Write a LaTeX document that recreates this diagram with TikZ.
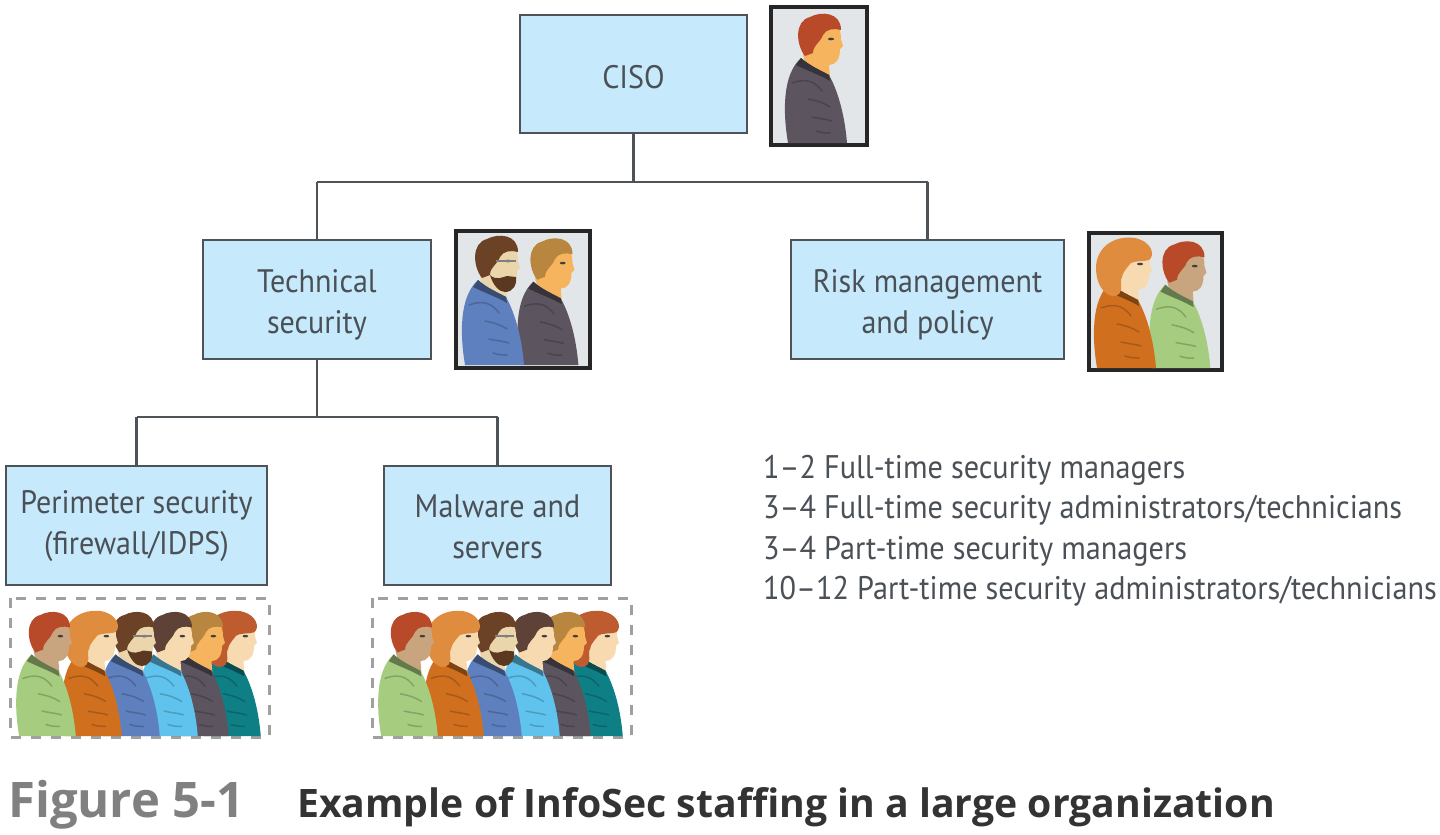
\documentclass[tikz,border=0pt]{standalone}
\usepackage{fontspec}
\setmainfont{PT Sans}[FakeStretch=0.925]
\newfontfamily\capfont{Open Sans}
\definecolor{boxfill}{HTML}{C6E9FC}
\definecolor{boxedge}{HTML}{4E5358}
\definecolor{inkgray}{HTML}{4A5056}
\definecolor{framebg}{HTML}{E3E6E9}
\definecolor{dashgray}{HTML}{A0A0A0}
\definecolor{hRed}{HTML}{B84A2A}
\definecolor{hOrange}{HTML}{E08C3E}
\definecolor{hBrown}{HTML}{6B4226}
\definecolor{hDark}{HTML}{5E4238}
\definecolor{hTan}{HTML}{B9863F}
\definecolor{hRust}{HTML}{BE5C30}
\definecolor{sTan}{HTML}{C9A57F}
\definecolor{sPale}{HTML}{F8DAB0}
\definecolor{sLight}{HTML}{EBD6AC}
\definecolor{sOrange}{HTML}{F7B45E}
\definecolor{jGreen}{HTML}{A6CC80}
\definecolor{jOrange}{HTML}{D0701F}
\definecolor{jBlue}{HTML}{5F80BE}
\definecolor{jSky}{HTML}{5FC3EE}
\definecolor{jDark}{HTML}{5C5560}
\definecolor{jTeal}{HTML}{0F7F86}
\tikzset{
  x=1pt,y=-1pt,
  orgbox/.style={draw=boxedge,line width=1.8pt,fill=boxfill,inner sep=0pt,outer sep=0pt},
  boxtext/.style={align=center,text=inkgray,font=\fontsize{32.5}{41}\selectfont,inner sep=0pt},
  link/.style={draw=boxedge,line width=2.2pt},
  portrait/.style={draw=black!85,line width=4pt,fill=framebg},
  crewbox/.style={draw=dashgray,line width=3pt,dash pattern=on 10pt off 10pt},
  notes/.style={anchor=north west,align=left,text=inkgray,inner sep=0pt,
    font=\fontsize{32.7}{40.5}\selectfont},
  fold/.style={line width=1.5pt,line cap=round}
}
% x, y of feet centre, scale, hair, skin, jacket, extras
\newcommand{\staffer}[7]{%
\begin{scope}[shift={(#1,#2)},scale=#3]
  \fill[#5] (-13,-88) .. controls (-12,-115) and (-8,-125) .. (8,-127)
     .. controls (20,-127) and (25,-115) .. (25,-104) -- (27,-97) -- (24,-94)
     .. controls (24,-84) and (20,-78) .. (13,-78) -- (14,-66) -- (-8,-70) -- cycle;
  \fill[#6] (-28,0) .. controls (-33,-30) and (-34,-68) .. (-15,-85)
     .. controls (-6,-77) and (4,-73) .. (13,-68)
     .. controls (23,-50) and (29,-25) .. (31,0) -- cycle;
  \fill[#6!60!black] (-15,-85) .. controls (-6,-77) and (4,-73) .. (13,-68)
     -- (14,-62) .. controls (4,-68) and (-8,-72) .. (-20,-78) -- cycle;
  \draw[fold,#6!80!black] (-24,-60) .. controls (-8,-66) and (0,-60) .. (6,-52);
  \draw[fold,#6!80!black] (-8,-44) .. controls (2,-42) and (8,-40) .. (14,-36);
  \draw[fold,#6!80!black] (-4,-26) .. controls (4,-24) and (10,-24) .. (16,-22);
  \draw[fold,#6!80!black] (0,-12) .. controls (6,-10) and (10,-10) .. (14,-10);
  \fill[#4] (-11,-87) .. controls (-20,-98) and (-22,-122) .. (-6,-126)
     .. controls (5,-132) and (25,-131) .. (25,-113)
     .. controls (18,-115) and (10,-114) .. (7,-108)
     .. controls (4,-100) and (-3,-98) .. (-3,-90) -- cycle;
  \fill[black!75] (15,-104) ellipse (3 and 1.3);
  #7
\end{scope}}
\newcommand{\longhair}[1]{\fill[#1] (24,-108) .. controls (30,-112) and (28,-126) .. (10,-130)
   .. controls (-12,-133) and (-29,-120) .. (-29,-100)
   .. controls (-29,-85) and (-22,-74) .. (-13,-72)
   .. controls (-6,-71) and (-3,-76) .. (-4,-84)
   .. controls (-5,-94) and (2,-100) .. (4,-104)
   .. controls (10,-108) and (18,-106) .. (24,-108) -- cycle;}
\newcommand{\beard}{\fill[hBrown!85!black] (-3,-90) .. controls (3,-84) and (10,-88) .. (14,-89)
   -- (23,-88) .. controls (24,-80) and (20,-73) .. (12,-73) .. controls (6,-73) and (0,-80) .. (-3,-90) -- cycle;
   \draw[line width=1.5pt,gray] (3,-104) -- (23,-104);}
\newcommand{\crew}[1]{%
\begin{scope}[shift={(#1,0)}]
  \draw[crewbox] (10,598) rectangle (269,737);
  \staffer{231}{736}{.96}{hRust}{sPale}{jTeal}{\longhair{hRust}}
  \staffer{199}{736}{.96}{hTan}{sOrange}{jDark}{}
  \staffer{168}{736}{.96}{hDark}{sPale}{jSky}{}
  \staffer{130}{736}{.96}{hBrown}{sLight}{jBlue}{\beard}
  \staffer{92}{736}{.96}{hOrange}{sPale}{jOrange}{\longhair{hOrange}}
  \staffer{46}{736}{.96}{hRed}{sTan}{jGreen}{}
\end{scope}}
\begin{document}
\begin{tikzpicture}[x=1pt,y=-1pt]
\path[use as bounding box] (0,0) rectangle (1440,835);
% org boxes
\node[orgbox,minimum width=227pt,minimum height=118pt] (ciso) at (633.5,74) {};
\node[orgbox,minimum width=228pt,minimum height=119pt] (tech) at (317,299.5) {};
\node[orgbox,minimum width=273pt,minimum height=119pt] (risk) at (927.5,299.5) {};
\node[orgbox,minimum width=261pt,minimum height=119pt] (perim) at (136.5,525.5) {};
\node[orgbox,minimum width=227pt,minimum height=119pt] (malware) at (497.5,525.5) {};
\node[boxtext] (cisotext) at ([yshift=-3pt]ciso.center) {CISO};
\node[boxtext] (techtext) at ([yshift=-5pt]tech.center) {Technical\\security};
\node[boxtext] (risktext) at ([yshift=-5pt]risk.center) {Risk management\\and policy};
\node[boxtext] (perimtext) at ([yshift=-1pt]perim.center) {Perimeter security\\(firewall/IDPS)};
\node[boxtext] (malwaretext) at ([yshift=-1pt]malware.center) {Malware and\\servers};
% connectors
\coordinate (busA) at (633.5,182);
\coordinate (busB) at (317,417);
\draw[link] (ciso.south) -- (busA);
\draw[link] (tech |- busA) -- (risk |- busA);
\draw[link] (tech |- busA) -- (tech.north);
\draw[link] (risk |- busA) -- (risk.north);
\draw[link] (tech.south) -- (busB);
\draw[link] (perim |- busB) -- (malware |- busB);
\draw[link] (perim |- busB) -- (perim.north);
\draw[link] (malware |- busB) -- (malware.north);
% portraits
\draw[portrait] (771,7) rectangle (867,145);
\staffer{816}{143}{1}{hRed}{sOrange}{jDark}{}
\draw[portrait] (456,231) rectangle (590,368);
\staffer{548}{365}{.98}{hTan}{sOrange}{jDark}{}
\staffer{493}{365}{1}{hBrown}{sLight}{jBlue}{\beard}
\draw[portrait] (1089,233) rectangle (1222,370);
\staffer{1180}{368}{.98}{hRed}{sTan}{jGreen}{}
\staffer{1125}{368}{1}{hOrange}{sPale}{jOrange}{\longhair{hOrange}}
% crews
\crew{0}
\crew{362}
% staffing notes
\node[notes] (staffing) at (763,455) {1--2 Full-time security managers\\
3--4 Full-time security administrators/technicians\\
3--4 Part-time security managers\\
10--12 Part-time security administrators/technicians};
% caption
\node[anchor=base west,inner sep=0pt,text=black!50,font=\capfont\bfseries\fontsize{49}{52}\selectfont] (figno) at (8,817) {Figure 5-1};
\node[anchor=base west,inner sep=0pt,text=black!80,font=\capfont\bfseries\fontsize{39.2}{42}\selectfont] (figcap) at (297,817) {Example of InfoSec staffing in a large organization};
\end{tikzpicture}
\end{document}
